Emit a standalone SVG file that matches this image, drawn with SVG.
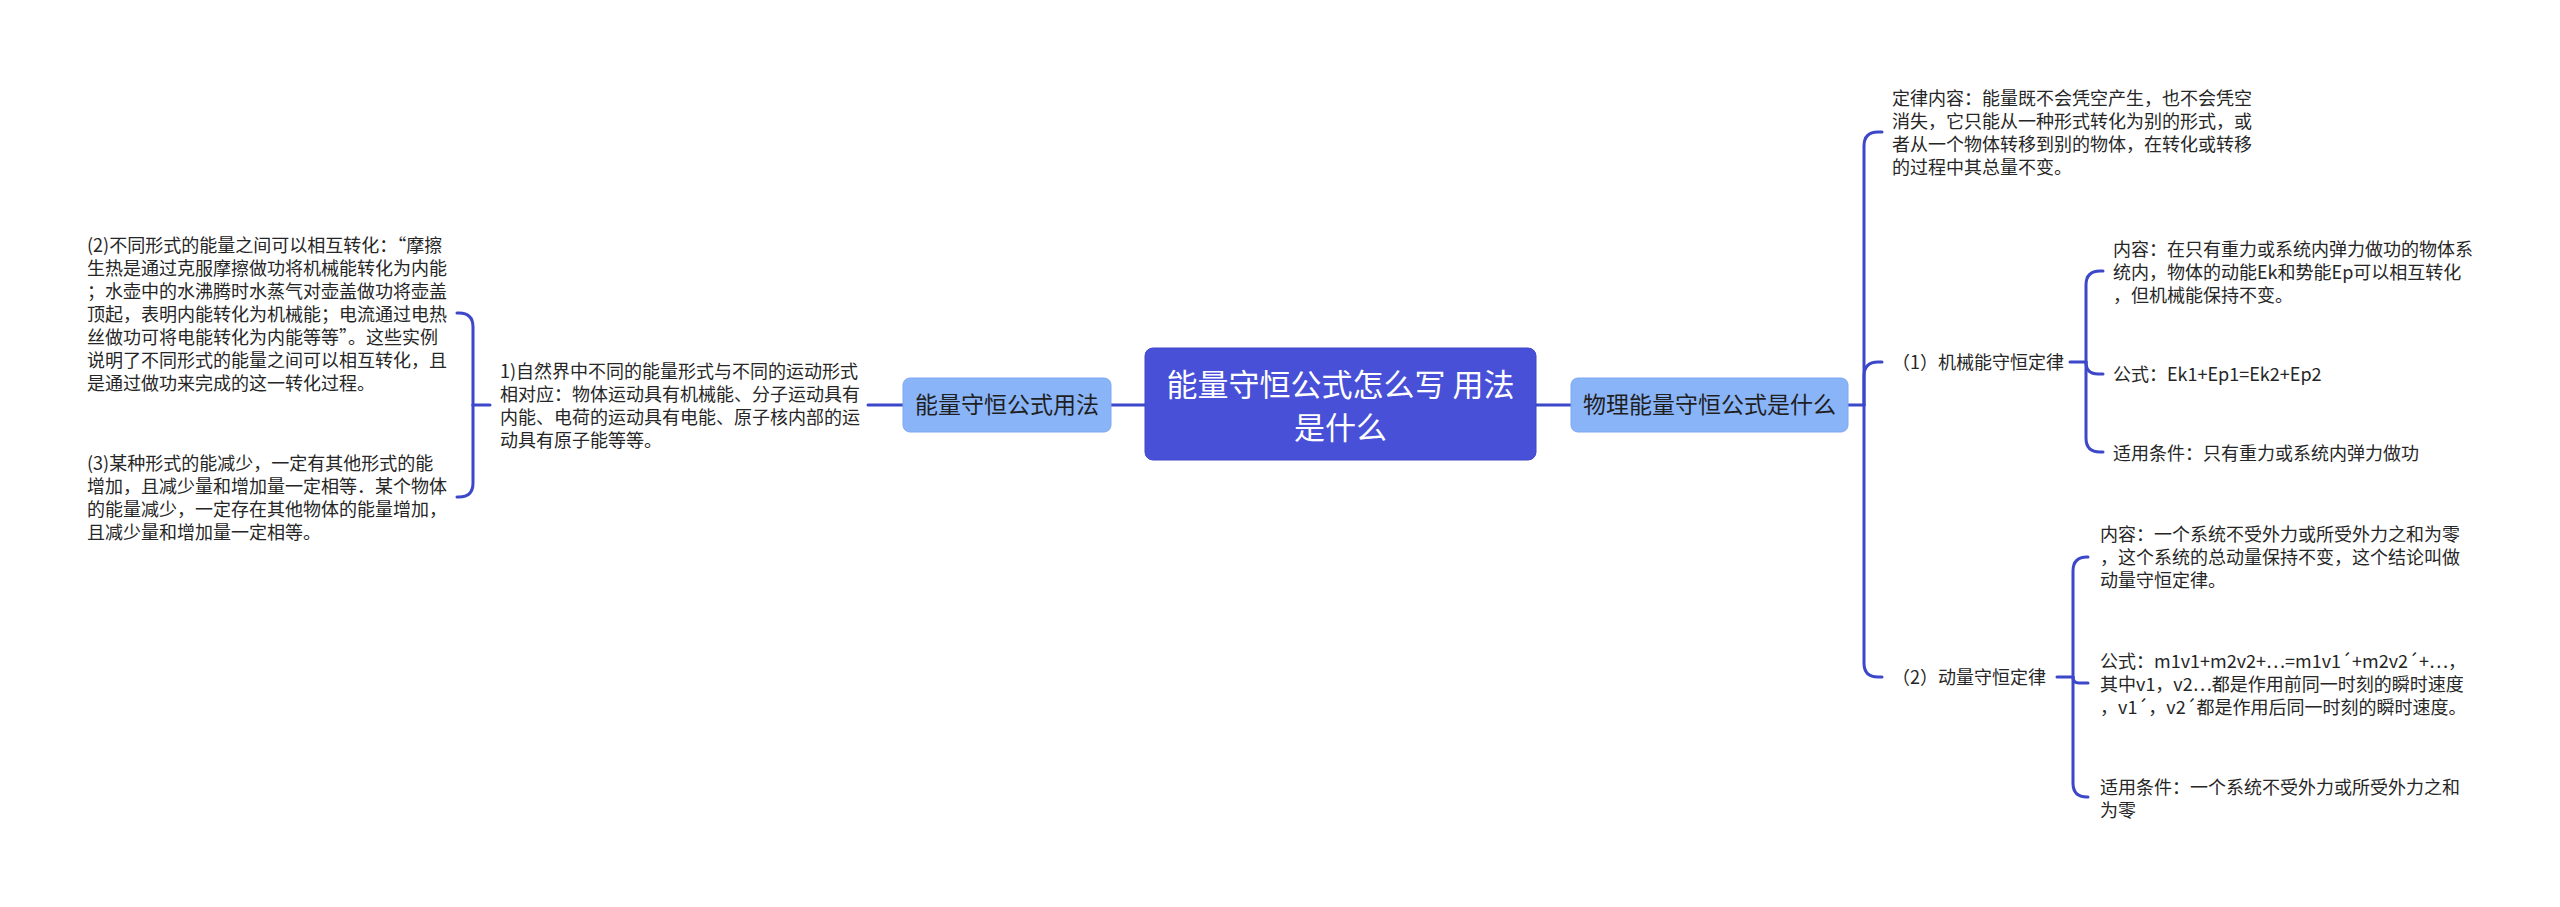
<svg xmlns="http://www.w3.org/2000/svg" width="2560" height="907" viewBox="0 0 2560 907">
<style>
.t{font-family:"Noto Sans CJK SC","Noto Sans",sans-serif;font-size:18px;fill:#262626}
.n{font-family:"Noto Sans CJK SC","Noto Sans",sans-serif;font-size:23px;fill:#1f1f1f;text-anchor:middle}
.m{font-family:"Noto Sans CJK SC","Noto Sans",sans-serif;font-size:31px;fill:#ffffff;text-anchor:middle}
.c{fill:none;stroke:#3d47c9;stroke-width:3;stroke-linecap:round;stroke-linejoin:round}
.sub{fill:#8ab4f8;stroke:#7ea8f0;stroke-width:1}
</style>
<rect width="2560" height="907" fill="#ffffff"/>
<g id="connectors">
<path class="c" d="M1145,405 H1111"/>
<path class="c" d="M903,405 H868"/>
<path class="c" d="M490,405 H473"/>
<path class="c" d="M473,405 V327 Q473,313 459,313 H457"/>
<path class="c" d="M473,405 V483 Q473,497 459,497 H457"/>
<path class="c" d="M1536,405 H1571"/>
<path class="c" d="M1848,405 H1864"/>
<path class="c" d="M1864,405 V146 Q1864,132 1878,132 H1882"/>
<path class="c" d="M1864,405 V376 Q1864,362 1878,362 H1882"/>
<path class="c" d="M1864,405 V663 Q1864,677 1878,677 H1882"/>
<path class="c" d="M2070,362 H2086"/>
<path class="c" d="M2086,362 V285 Q2086,271 2100,271 H2103"/>
<path class="c" d="M2086,362 Q2086,374 2098,374 H2103"/>
<path class="c" d="M2086,362 V438 Q2086,452 2100,452 H2103"/>
<path class="c" d="M2057,677 H2073"/>
<path class="c" d="M2073,677 V571 Q2073,557 2087,557 H2088"/>
<path class="c" d="M2073,677 Q2073,683 2079,683 H2088"/>
<path class="c" d="M2073,677 V783 Q2073,797 2087,797 H2088"/>
</g>
<g id="root">
<rect x="1145" y="348" width="391" height="112" rx="8" fill="#4850d8" stroke="#3f47c8" stroke-width="1"/>
<text class="m" x="1340.5" y="396">能量守恒公式怎么写 用法</text>
<text class="m" x="1340.5" y="439">是什么</text>
</g>
<g id="left-branch">
<rect class="sub" x="903" y="378" width="208" height="54" rx="7"/>
<text class="n" x="1007" y="413">能量守恒公式用法</text>
</g>
<g id="left-1">
<text class="t" x="500" y="378">1)自然界中不同的能量形式与不同的运动形式</text>
<text class="t" x="500" y="401">相对应：物体运动具有机械能、分子运动具有</text>
<text class="t" x="500" y="424">内能、电荷的运动具有电能、原子核内部的运</text>
<text class="t" x="500" y="447">动具有原子能等等。</text>
</g>
<g id="left-2">
<text class="t" x="87" y="252">(2)不同形式的能量之间可以相互转化：“摩擦</text>
<text class="t" x="87" y="275">生热是通过克服摩擦做功将机械能转化为内能</text>
<text class="t" x="87" y="298">；水壶中的水沸腾时水蒸气对壶盖做功将壶盖</text>
<text class="t" x="87" y="321">顶起，表明内能转化为机械能；电流通过电热</text>
<text class="t" x="87" y="344">丝做功可将电能转化为内能等等”。这些实例</text>
<text class="t" x="87" y="367">说明了不同形式的能量之间可以相互转化，且</text>
<text class="t" x="87" y="390">是通过做功来完成的这一转化过程。</text>
</g>
<g id="left-3">
<text class="t" x="87" y="470">(3)某种形式的能减少，一定有其他形式的能</text>
<text class="t" x="87" y="493">增加，且减少量和增加量一定相等．某个物体</text>
<text class="t" x="87" y="516">的能量减少，一定存在其他物体的能量增加，</text>
<text class="t" x="87" y="539">且减少量和增加量一定相等。</text>
</g>
<g id="right-branch">
<rect class="sub" x="1571" y="378" width="277" height="54" rx="7"/>
<text class="n" x="1709.5" y="413">物理能量守恒公式是什么</text>
</g>
<g id="law">
<text class="t" x="1892" y="105">定律内容：能量既不会凭空产生，也不会凭空</text>
<text class="t" x="1892" y="128">消失，它只能从一种形式转化为别的形式，或</text>
<text class="t" x="1892" y="151">者从一个物体转移到别的物体，在转化或转移</text>
<text class="t" x="1892" y="174">的过程中其总量不变。</text>
</g>
<g id="mech">
<text class="t" x="1892" y="369">（1）机械能守恒定律</text>
</g>
<g id="mech-content">
<text class="t" x="2113" y="256">内容：在只有重力或系统内弹力做功的物体系</text>
<text class="t" x="2113" y="279">统内，物体的动能Ek和势能Ep可以相互转化</text>
<text class="t" x="2113" y="302">，但机械能保持不变。</text>
</g>
<g id="mech-formula">
<text class="t" x="2113" y="381">公式：Ek1+Ep1=Ek2+Ep2</text>
</g>
<g id="mech-cond">
<text class="t" x="2113" y="460">适用条件：只有重力或系统内弹力做功</text>
</g>
<g id="momentum">
<text class="t" x="1892" y="684">（2）动量守恒定律</text>
</g>
<g id="mom-content">
<text class="t" x="2100" y="541">内容：一个系统不受外力或所受外力之和为零</text>
<text class="t" x="2100" y="564">，这个系统的总动量保持不变，这个结论叫做</text>
<text class="t" x="2100" y="587">动量守恒定律。</text>
</g>
<g id="mom-formula">
<text class="t" x="2100" y="668">公式：m1v1+m2v2+…=m1v1´+m2v2´+…，</text>
<text class="t" x="2100" y="691">其中v1，v2…都是作用前同一时刻的瞬时速度</text>
<text class="t" x="2100" y="714">，v1´，v2´都是作用后同一时刻的瞬时速度。</text>
</g>
<g id="mom-cond">
<text class="t" x="2100" y="794">适用条件：一个系统不受外力或所受外力之和</text>
<text class="t" x="2100" y="817">为零</text>
</g>
</svg>
